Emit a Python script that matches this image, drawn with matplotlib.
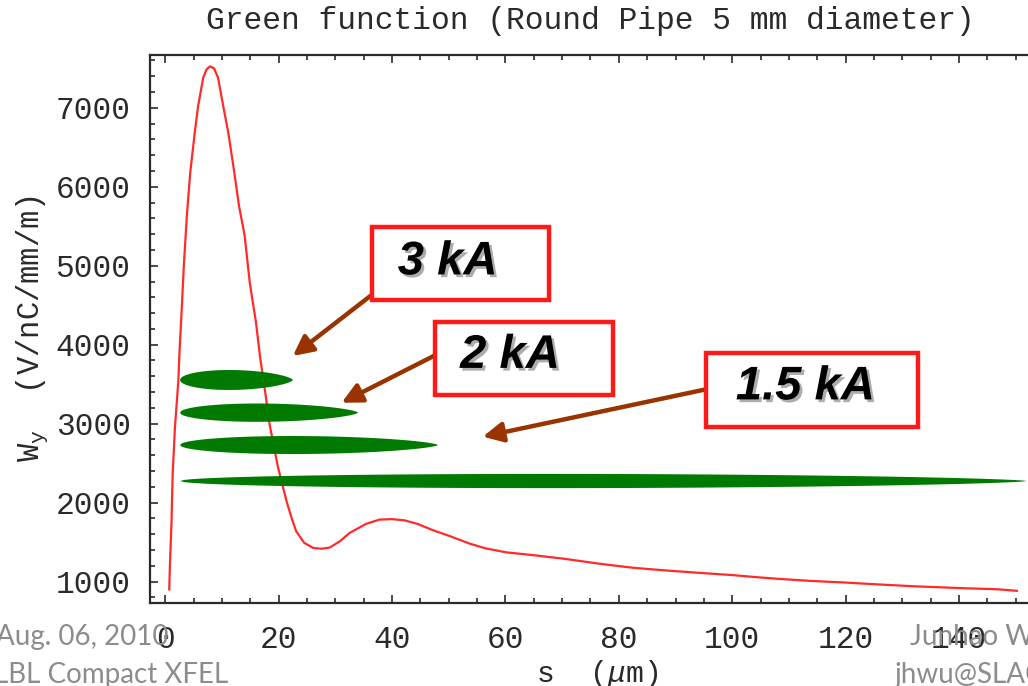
import numpy as np
import matplotlib
matplotlib.use("Agg")
import matplotlib.pyplot as plt
import matplotlib.patheffects as pe
from matplotlib.patches import Rectangle
from matplotlib.ticker import MultipleLocator

# ======================
# DATA
# ======================

s_um = [0.7, 0.8, 1.1, 1.3, 1.7, 2.3, 2.5, 2.9, 3.3, 3.8, 4.4, 5.2, 5.8, 6.7, 7.3, 7.9,
        8.6, 9.3, 10.2, 11.1, 12.0, 13.0, 14.0, 14.9, 16.0, 16.7, 17.6, 18.4, 19.9,
        21.4, 22.3, 23.1, 24.5, 26.1, 27.5, 29.0, 30.8, 32.5, 35.4, 37.8, 40.0, 42.2,
        44.5, 47.2, 50.2, 53.7, 56.5, 60.1, 65.4, 70.7, 76.6, 82.4, 88.3, 94.2, 100.3,
        103.8, 107.9, 113.8, 119.7, 125.6, 132.0, 140.9, 146.8, 148.9, 150.2]
w_y = [900, 1170, 1760, 2360, 2950, 3540, 3900, 4450, 5040, 5630, 6180, 6690, 7030, 7385,
       7490, 7525, 7500, 7385, 7030, 6690, 6265, 5760, 5380, 4785, 4280, 3855, 3410, 2990,
       2440, 2015, 1800, 1635, 1490, 1425, 1415, 1430, 1510, 1615, 1730, 1785, 1790, 1775,
       1730, 1650, 1575, 1480, 1420, 1370, 1330, 1285, 1225, 1175, 1140, 1110, 1080,
       1058, 1035, 1008, 988, 964, 940, 915, 902, 890, 882]

# bunch shapes: start, end, centre, full height
bunch_start = [2.6, 2.6, 2.6, 2.6]
bunch_end = [22.5, 34.0, 48.1, 152.0]
bunch_center = [3553, 3139, 2729, 2273]
bunch_height = [253, 232, 228, 180]

# current labels
labels = ["3 kA", "2 kA", "1.5 kA"]
label_xy = [(49.8, 5042), (60.8, 3858), (112.9, 3459)]
box_x = [(36.4, 67.7), (47.5, 79.0), (95.4, 132.8)]
box_y = [(4567, 5488), (3363, 4292), (2954, 3891)]
arrow_tail = [(36.4, 4630), (47.7, 3870), (95.4, 3435)]
arrow_tip = [(22.5, 3857), (31.1, 3265), (56.0, 2835)]

# ======================
# FIGURE
# ======================

plt.rcParams['mathtext.fontset'] = 'custom'
plt.rcParams['mathtext.rm'] = 'Liberation Mono'
plt.rcParams['mathtext.it'] = 'Liberation Mono:italic'
plt.rcParams['mathtext.tt'] = 'Liberation Mono'

mono = 'Liberation Mono'
axc = '#2a2a2a'

fig = plt.figure(figsize=(10.28, 6.86), dpi=100)
ax = fig.add_axes([0.1459, 0.121, 0.8697, 0.799])

ax.plot(s_um, w_y, color='#ff2a2a', lw=1.6, zorder=3)

# green bunches (blunt head, tapered tail)
t = np.linspace(0, 1, 200)
prof = np.sqrt(t) * (1 - t) ** 0.65
prof = prof / prof.max()
for x0, x1, yc, h in zip(bunch_start, bunch_end, bunch_center, bunch_height):
    xs = x0 + (x1 - x0) * t
    ax.fill(np.concatenate([xs, xs[::-1]]),
            np.concatenate([yc + h / 2 * prof, (yc - h / 2 * prof)[::-1]]),
            color='#007a00', lw=0, zorder=4)

# label boxes and arrows
for lab, (tx, ty), bx, by, tail, tip in zip(labels, label_xy, box_x, box_y, arrow_tail, arrow_tip):
    ax.annotate('', xy=tip, xytext=tail,
                arrowprops=dict(arrowstyle='-|>,head_length=1.2,head_width=0.6',
                                color='#993300', lw=3.2, shrinkA=0, shrinkB=0),
                zorder=5)
    ax.add_patch(Rectangle((bx[0], by[0]), bx[1] - bx[0], by[1] - by[0],
                           facecolor='white', edgecolor='#ff1a1a', lw=3.2, zorder=6))
    ax.text(tx, ty, lab, ha='center', va='center', fontsize=34,
            family='Liberation Sans', weight='bold', style='italic', color='black',
            zorder=7,
            path_effects=[pe.withSimplePatchShadow(offset=(2, -2), shadow_rgbFace='#777777', alpha=0.6)])

ax.set_xlim(-2.7, 155)
ax.set_ylim(728, 7671)
ax.xaxis.set_major_locator(MultipleLocator(20))
ax.xaxis.set_minor_locator(MultipleLocator(5))
ax.set_yticks([1000, 2000, 3000, 4000, 5000, 6000, 7000])
ax.yaxis.set_minor_locator(MultipleLocator(200))
ax.tick_params(which='both', direction='in', top=True, right=True, color=axc, width=1.2)
ax.tick_params(which='major', length=6)
ax.tick_params(which='minor', length=3.5)
ax.tick_params(axis='x', pad=16)
ax.tick_params(axis='y', pad=14)
for lbl in ax.get_xticklabels() + ax.get_yticklabels():
    lbl.set_family(mono)
    lbl.set_fontsize(22.5)
    lbl.set_color(axc)
for sp in ax.spines.values():
    sp.set_color(axc)
    sp.set_linewidth(1.6)

ax.set_xlabel(r's  ($\mu$m)', family=mono, fontsize=21.5, color=axc, labelpad=2)
ax.set_ylabel(r'$\mathrm{W_y}$  (V/nC/mm/m)', family=mono, fontsize=22, color=axc, labelpad=4)

fig.text(590 / 1028, 1 - 21 / 686, 'Green function (Round Pipe 5 mm diameter)',
         ha='center', va='center', family=mono, fontsize=22.5, color=axc)

# slide footer
grey = '#8c8c8c'
fig.text(-4 / 1028, 1 - 637 / 686, 'Aug. 06, 2010', ha='left', va='center',
         family='Lato', fontsize=20, color=grey)
fig.text(-6 / 1028, 1 - 675 / 686, 'LBL Compact XFEL', ha='left', va='center',
         family='Lato', fontsize=20, color=grey)
fig.text(910 / 1028, 1 - 637 / 686, 'Junhao Wu', ha='left', va='center',
         family='Lato', fontsize=20, color=grey)
fig.text(895 / 1028, 1 - 675 / 686, 'jhwu@SLAC.Stanford.EDU', ha='left', va='center',
         family='Lato', fontsize=20, color=grey)

fig.savefig('out.png', dpi=100)
